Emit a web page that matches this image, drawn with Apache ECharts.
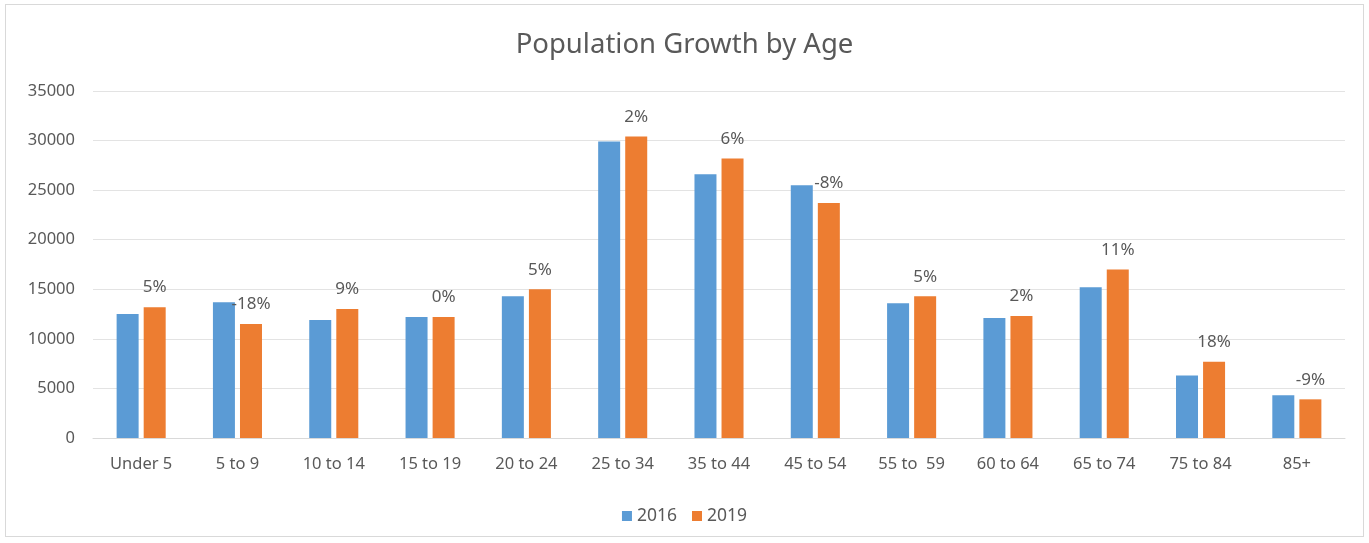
<!DOCTYPE html>
<html>
<head>
<meta charset="utf-8">
<script src="https://cdn.jsdelivr.net/npm/echarts@6/dist/echarts.min.js"></script>
<style>
  html, body { margin: 0; padding: 0; background: #fff; }
  #frame { position: absolute; left: 5px; top: 4px; width: 1359px; height: 533px; border: 1px solid #d9d9d9; box-sizing: border-box; }
  #chart { position: absolute; left: 0; top: 0; width: 1369px; height: 543px; }
</style>
</head>
<body>
<div id="frame"></div>
<div id="chart"></div>
<script>
// Age groups along the x axis
const categories = ['Under 5', '5 to 9', '10 to 14', '15 to 19', '20 to 24', '25 to 34',
  '35 to 44', '45 to 54', '55 to  59', '60 to 64', '65 to 74', '75 to 84', '85+'];

// Population counts per age group
const pop2016 = [12500, 13700, 11900, 12200, 14300, 29900, 26600, 25500, 13600, 12100, 15200, 6300, 4300];
const pop2019 = [13200, 11500, 13000, 12200, 15000, 30400, 28200, 23700, 14300, 12300, 17000, 7700, 3900];

// Growth labels shown above the 2019 bars
const growth = ['5%', '-18%', '9%', '0%', '5%', '2%', '6%', '-8%', '5%', '2%', '11%', '18%', '-9%'];

const FONT = 'Noto Sans';
const GREY = '#595959';

const chart = echarts.init(document.getElementById('chart'), null, { renderer: 'canvas' });
chart.setOption({
  animation: false,
  textStyle: { fontFamily: FONT },
  title: {
    text: 'Population Growth by Age',
    left: 'center',
    top: 26,
    textStyle: { fontFamily: FONT, fontSize: 27.5, fontWeight: 'normal', color: GREY }
  },
  legend: {
    data: ['2016', '2019'],
    left: 'center',
    top: 502,
    itemWidth: 10,
    itemHeight: 10,
    itemGap: 15,
    icon: 'rect',
    textStyle: { fontFamily: FONT, fontSize: 17.5, color: GREY }
  },
  grid: { left: 93, right: 24, top: 91, bottom: 105, containLabel: false },
  xAxis: {
    type: 'category',
    data: categories,
    axisTick: { show: false },
    axisLine: { show: true, lineStyle: { color: '#d9d9d9', width: 1 } },
    axisLabel: { color: GREY, fontSize: 16.5, fontFamily: FONT, margin: 18, interval: 0 }
  },
  yAxis: {
    type: 'value',
    min: 0,
    max: 35000,
    interval: 5000,
    axisLine: { show: false },
    axisTick: { show: false },
    splitLine: { lineStyle: { color: '#e3e3e3', width: 1 } },
    axisLabel: { color: GREY, fontSize: 16.5, fontFamily: FONT, margin: 18, formatter: v => String(v) }
  },
  series: [
    {
      name: '2016',
      type: 'bar',
      data: pop2016,
      barWidth: 22,
      barGap: '23%',
      itemStyle: { color: '#5B9BD5' }
    },
    {
      name: '2019',
      type: 'bar',
      data: pop2019,
      barWidth: 22,
      itemStyle: { color: '#ED7D31' },
      label: {
        show: true,
        position: 'top',
        distance: 11,
        color: GREY,
        fontSize: 17,
        fontFamily: FONT,
        formatter: p => growth[p.dataIndex]
      }
    }
  ]
});
</script>
</body>
</html>
